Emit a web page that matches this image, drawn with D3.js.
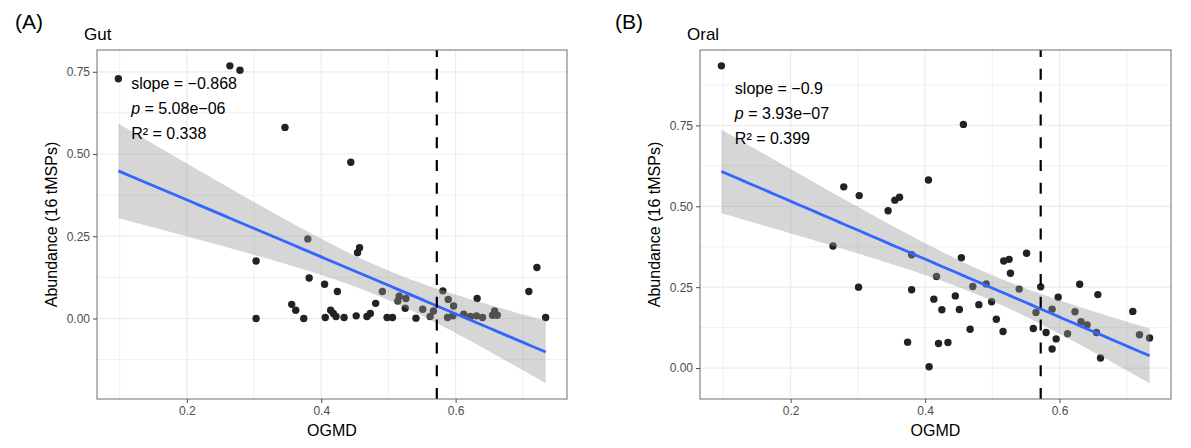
<!DOCTYPE html>
<html>
<head>
<meta charset="utf-8">
<script src="https://cdn.jsdelivr.net/npm/d3@7"></script>
<style>
  body { margin: 0; background: #fff; }
  text { font-family: "Liberation Sans", Arial, Helvetica, sans-serif; }
</style>
</head>
<body>
<svg id="chart" width="1191" height="448"></svg>
<script>

// data (OGMD vs abundance)
const gutX = [0.098, 0.264, 0.279, 0.346, 0.444, 0.380, 0.303, 0.382, 0.405, 0.424,
              0.356, 0.362, 0.303, 0.374, 0.406, 0.414, 0.418, 0.422, 0.457, 0.454,
              0.434, 0.452, 0.468, 0.473, 0.481, 0.491, 0.498, 0.506, 0.516, 0.514,
              0.526, 0.525, 0.541, 0.551, 0.562, 0.567, 0.581, 0.589, 0.597, 0.588,
              0.596, 0.612, 0.622, 0.631, 0.632, 0.640, 0.655, 0.658, 0.662, 0.709,
              0.721, 0.734];
const gutY = [0.729, 0.768, 0.755, 0.581, 0.475, 0.242, 0.175, 0.123, 0.104, 0.082,
              0.043, 0.025, 0.000, 0.000, 0.003, 0.025, 0.015, 0.006, 0.215, 0.200,
              0.003, 0.008, 0.006, 0.015, 0.046, 0.082, 0.003, 0.003, 0.068, 0.053,
              0.061, 0.031, 0.001, 0.028, 0.006, 0.023, 0.084, 0.058, 0.038, 0.003,
              0.008, 0.013, 0.006, 0.008, 0.061, 0.003, 0.010, 0.023, 0.010, 0.082,
              0.155, 0.003];

const oralX = [0.097, 0.279, 0.302, 0.345, 0.355, 0.362, 0.457, 0.405, 0.263, 0.301,
               0.380, 0.380, 0.374, 0.417, 0.413, 0.425, 0.420, 0.434, 0.406, 0.445,
               0.454, 0.451, 0.467, 0.471, 0.480, 0.491, 0.499, 0.506, 0.516, 0.517,
               0.525, 0.527, 0.540, 0.551, 0.561, 0.565, 0.572, 0.580, 0.589, 0.598,
               0.595, 0.589, 0.612, 0.623, 0.630, 0.632, 0.641, 0.655, 0.657, 0.661,
               0.709, 0.719, 0.734];
const oralY = [0.934, 0.560, 0.533, 0.486, 0.519, 0.528, 0.753, 0.581, 0.377, 0.250,
               0.350, 0.242, 0.080, 0.283, 0.213, 0.180, 0.076, 0.079, 0.004, 0.223,
               0.341, 0.181, 0.120, 0.252, 0.196, 0.260, 0.205, 0.151, 0.113, 0.331,
               0.336, 0.293, 0.244, 0.355, 0.122, 0.172, 0.251, 0.110, 0.182, 0.219,
               0.090, 0.059, 0.106, 0.174, 0.259, 0.143, 0.133, 0.110, 0.227, 0.031,
               0.175, 0.103, 0.093];

const xTicks = [0.2, 0.4, 0.6];
const yTicks = [0.00, 0.25, 0.50, 0.75];
const cutoff = 0.572;

const gutStats = ["−0.868", "5.08e−06", "0.338"];
const oralStats = ["−0.9", "3.93e−07", "0.399"];

const svg = d3.select("#chart");

// linear fit + 95% confidence band (like geom_smooth(method = "lm"))
function fitLine(xs, ys) {
  const n = xs.length;
  const mx = d3.mean(xs), my = d3.mean(ys);
  let sxx = 0, sxy = 0;
  xs.forEach((x, i) => { sxx += (x - mx) * (x - mx); sxy += (x - mx) * (ys[i] - my); });
  const b = sxy / sxx, a = my - b * mx;
  let sse = 0;
  xs.forEach((x, i) => { const r = ys[i] - (a + b * x); sse += r * r; });
  const s = Math.sqrt(sse / (n - 2));
  const df = n - 2, z = 1.959964;
  const t = z + (z ** 3 + z) / (4 * df) + (5 * z ** 5 + 16 * z ** 3 + 3 * z) / (96 * df * df);
  const grid = d3.range(81).map(i => d3.min(xs) + i * (d3.max(xs) - d3.min(xs)) / 80);
  return grid.map(x => {
    const fit = a + b * x;
    const se = s * Math.sqrt(1 / n + (x - mx) * (x - mx) / sxx);
    return {x: x, fit: fit, lo: fit - t * se, hi: fit + t * se};
  });
}

function drawPanel(p) {
  const pts = p.xs.map((x, i) => ({x: x, y: p.ys[i]}));
  const band = fitLine(p.xs, p.ys);

  // ggplot style 5% expansion
  const xExt = d3.extent(p.xs);
  const yLo = Math.min(d3.min(p.ys), d3.min(band, d => d.lo));
  const yHi = Math.max(d3.max(p.ys), d3.max(band, d => d.hi));
  const xPad = (xExt[1] - xExt[0]) * 0.05, yPad = (yHi - yLo) * 0.05;

  const x = d3.scaleLinear().domain([xExt[0] - xPad, xExt[1] + xPad]).range([p.left, p.right]);
  const y = d3.scaleLinear().domain([yLo - yPad, yHi + yPad]).range([p.bottom, p.top]);

  const g = svg.append("g");

  // grid (major + minor)
  const xMinor = [xTicks[0] - 0.1].concat(xTicks.map(v => v + 0.1))
      .filter(v => v > x.domain()[0] && v < x.domain()[1]);
  const yMinor = [yTicks[0] - 0.125].concat(yTicks.map(v => v + 0.125))
      .filter(v => v > y.domain()[0] && v < y.domain()[1]);

  g.selectAll(".gx").data(xMinor.concat(xTicks)).enter().append("line")
    .attr("x1", d => x(d)).attr("x2", d => x(d))
    .attr("y1", p.top).attr("y2", p.bottom)
    .attr("stroke", "#ebebeb").attr("stroke-width", (d, i) => i < xMinor.length ? 0.8 : 1.2);
  g.selectAll(".gy").data(yMinor.concat(yTicks)).enter().append("line")
    .attr("y1", d => y(d)).attr("y2", d => y(d))
    .attr("x1", p.left).attr("x2", p.right)
    .attr("stroke", "#ebebeb").attr("stroke-width", (d, i) => i < yMinor.length ? 0.8 : 1.2);

  // points under the band
  g.selectAll("circle").data(pts).enter().append("circle")
    .attr("cx", d => x(d.x)).attr("cy", d => y(d.y))
    .attr("r", 3.7).attr("fill", "#222");

  g.append("path").datum(band)
    .attr("d", d3.area().x(d => x(d.x)).y0(d => y(d.lo)).y1(d => y(d.hi)))
    .attr("fill", "#999999").attr("opacity", 0.4);

  g.append("path").datum(band)
    .attr("d", d3.line().x(d => x(d.x)).y(d => y(d.fit)))
    .attr("fill", "none").attr("stroke", "#3366FF").attr("stroke-width", 2.8);

  g.append("line")
    .attr("x1", x(cutoff)).attr("x2", x(cutoff))
    .attr("y1", p.bottom).attr("y2", p.top)
    .attr("stroke", "#000").attr("stroke-width", 2.2)
    .attr("stroke-dasharray", "11,11.8");

  // panel border
  g.append("rect")
    .attr("x", p.left).attr("y", p.top)
    .attr("width", p.right - p.left).attr("height", p.bottom - p.top)
    .attr("fill", "none").attr("stroke", "#6e6e6e").attr("stroke-width", 1);

  // axes
  const xa = g.append("g").attr("transform", "translate(0," + p.bottom + ")")
    .call(d3.axisBottom(x).tickValues(xTicks).tickFormat(d3.format(".1f")).tickSize(4).tickPadding(3));
  const ya = g.append("g").attr("transform", "translate(" + p.left + ",0)")
    .call(d3.axisLeft(y).tickValues(yTicks).tickFormat(d3.format(".2f")).tickSize(4).tickPadding(3));
  [xa, ya].forEach(a => {
    a.select(".domain").remove();
    a.selectAll(".tick line").attr("stroke", "#4d4d4d");
    a.selectAll(".tick text").attr("fill", "#4d4d4d").style("font-size", "12px");
  });

  // titles
  svg.append("text").attr("x", p.tagX).attr("y", 28.5)
    .style("font-size", "21px").text(p.tag);
  svg.append("text").attr("x", p.left - 13).attr("y", 39.5)
    .style("font-size", "17px").text(p.title);
  svg.append("text").attr("x", (p.left + p.right) / 2).attr("y", 436)
    .attr("text-anchor", "middle").style("font-size", "16px").text("OGMD");
  svg.append("text")
    .attr("transform", "translate(" + (p.left - 46) + "," + (p.top + p.bottom) / 2 + ") rotate(-90)")
    .attr("text-anchor", "middle").attr("dy", "0.35em").style("font-size", "16px").text("Abundance (16 tMSPs)");

  // stats annotation
  const ax = x(p.annX), ay = y(p.annY);
  const ann = svg.append("g").style("font-size", "16px");
  ann.append("text").attr("x", ax).attr("y", ay).text("slope = " + p.stats[0]);
  const pl = ann.append("text").attr("x", ax).attr("y", ay + 25);
  pl.append("tspan").style("font-style", "italic").text("p");
  pl.append("tspan").text(" = " + p.stats[1]);
  ann.append("text").attr("x", ax).attr("y", ay + 50).text("R² = " + p.stats[2]);
}

drawPanel({xs: gutX, ys: gutY, left: 97, right: 567, top: 50, bottom: 399,
           tag: "(A)", tagX: 15, title: "Gut", stats: gutStats, annX: 0.117, annY: 0.698});
drawPanel({xs: oralX, ys: oralY, left: 700, right: 1171, top: 50, bottom: 399,
           tag: "(B)", tagX: 615, title: "Oral", stats: oralStats, annX: 0.117, annY: 0.846});

</script>
</body>
</html>
